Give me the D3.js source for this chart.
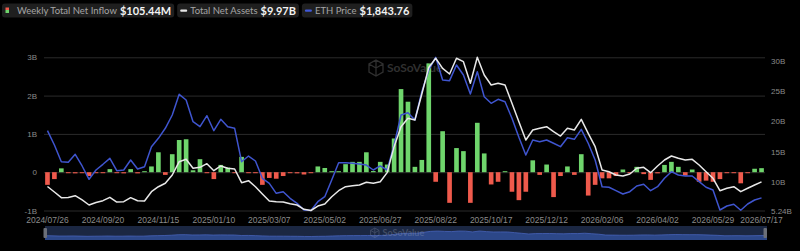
<!DOCTYPE html>
<html>
<head>
<meta charset="utf-8">
<script src="https://cdn.jsdelivr.net/npm/d3@7"></script>
<style>
  html, body { margin: 0; padding: 0; background: #000; }
  svg { display: block; font-family: Lato, "Noto Sans", sans-serif; }
</style>
</head>
<body>
<svg width="800" height="251"></svg>
<script>
// ETH spot ETF weekly flows, total net assets and ETH price (weekly)

const width = 800;
const height = 251;
const plotLeft = 44;
const plotRight = 765;
const plotTop = 57.3;
const plotBottom = 210.5;

const startDate = "2024/07/26";

// weekly total net inflow, $B
const netInflow = [
  -0.33, -0.18, 0.1, -0.02, -0.03, -0.01, -0.1, -0.01, -0.02, 0.08,
  -0.02, -0.03, 0.08, -0.03, 0.01, 0.15, 0.52, -0.07, 0.47, 0.84,
  0.86, 0.05, 0.34, -0.02, -0.18, 0.19, 0.12, -0.02, 0.4, -0.02,
  -0.01, -0.33, -0.15, -0.17, -0.1, -0.01, -0.03, -0.06, -0.01, 0.15,
  0.11, 0.01, 0.02, 0.21, 0.27, 0.27, 0.52, 0.03, 0.27, 0.2,
  0.88, 2.17, 1.84, 0.14, 0.32, 2.84, -0.25, 1.07, -0.8, 0.63,
  0.55, -0.8, 1.29, 0.49, -0.32, -0.25, 0.01, -0.51, -0.73, -0.51,
  0.31, -0.07, 0.2, -0.65, -0.1, 0.15, -0.07, 0.47, -0.61, -0.33,
  -0.16, -0.16, -0.1, 0.07, -0.01, 0.14, -0.05, -0.2, -0.03, 0.19,
  0.27, 0.14, -0.09, 0.07, -0.25, -0.22, -0.25, -0.18, -0.01, -0.01,
  -0.29, -0.01, 0.09, 0.10544
];

// total net assets, $B
const netAssets = [
  9.21, 8.3, 7.36, 7.39, 7.69, 6.98, 6.15, 6.56, 6.86, 7.42,
  6.64, 6.69, 7.36, 6.86, 6.8, 8.35, 9.17, 9.74, 11.11, 13.31,
  13.7, 12.22, 12.38, 12.98, 11.82, 12.6, 12.22, 12.1, 9.84, 10.17,
  9.17, 7.97, 6.81, 6.69, 6.64, 6.36, 6.15, 5.44, 5.24, 5.98,
  6.31, 7.52, 8.51, 9.17, 9.34, 9.45, 9.9, 9.74, 10.0, 11.5,
  15.79, 19.09, 20.48, 20.2, 24.5, 28.88, 30.4, 28.74, 27.8, 30.4,
  29.84, 26.26, 30.56, 27.64, 25.98, 26.26, 25.98, 22.96, 19.92, 16.89,
  18.55, 18.83, 19.09, 18.26, 17.55, 18.83, 18.55, 20.31, 18.0, 15.79,
  11.93, 11.65, 11.11, 10.94, 11.27, 12.22, 12.38, 11.49, 12.6, 13.59,
  14.25, 13.87, 13.59, 13.7, 12.76, 11.65, 10.56, 8.51, 8.91, 9.17,
  8.35, 8.91, 9.45, 9.97
];

// ETH price, $
const ethPrice = [
  3247, 2948, 2599, 2587, 2754, 2510, 2232, 2426, 2545, 2670,
  2411, 2426, 2635, 2447, 2495, 2913, 3088, 3297, 3575, 4007,
  3888, 3435, 3331, 3560, 3247, 3485, 3331, 3297, 2599, 2718,
  2614, 2253, 2148, 1939, 1973, 1835, 1730, 1590, 1580, 1764,
  1868, 2217, 2579, 2579, 2566, 2551, 2530, 2426, 2510, 2426,
  2948, 3575, 3623, 3471, 4062, 4515, 4780, 4306, 4292, 4620,
  4411, 4014, 4480, 3957, 3819, 3903, 3853, 3506, 3109, 2739,
  3053, 3017, 3053, 2984, 2913, 3101, 3067, 3276, 2984, 2635,
  2077, 2065, 1994, 1925, 1973, 2092, 2127, 1994, 2077, 2253,
  2391, 2322, 2301, 2301, 2182, 2065, 2008, 1590, 1674, 1710,
  1585, 1716, 1799, 1843.76
];

const xTickLabels = [
  "2024/07/26", "2024/09/20", "2024/11/15", "2025/01/10", "2025/03/07",
  "2025/05/02", "2025/06/27", "2025/08/22", "2025/10/17", "2025/12/12",
  "2026/02/06", "2026/04/02", "2026/05/29", "2026/07/17"
];
const leftTicks = [-1, 0, 1, 2, 3];
const rightTicks = [5.24, 10, 15, 20, 25, 30];

const legendItems = [
  { label: "Weekly Total Net Inflow", value: "$105.44M", icon: "bar" },
  { label: "Total Net Assets", value: "$9.97B", icon: "#e8e8e8" },
  { label: "ETH Price", value: "$1,843.76", icon: "#4058d8" }
];

const green = "#6fd56c";
const red = "#ef5a4c";
const blue = "#3f55cf";
const white = "#e8e8e8";

const svg = d3.select("svg");
svg.append("rect").attr("width", width).attr("height", height).attr("fill", "#000");

const n = netInflow.length;
const parse = d3.timeParse("%Y/%m/%d");
const weekIndex = (s) => Math.round((parse(s) - parse(startDate)) / (7 * 864e5));
const tickIdx = xTickLabels.map(weekIndex);

const x = d3.scaleBand().domain(d3.range(n)).range([plotLeft, plotRight])
  .paddingInner(0.33).paddingOuter(0.165);
const cx = (i) => x(i) + x.bandwidth() / 2;

const yLeft = d3.scaleLinear().domain([-1, 3]).range([plotBottom, plotTop]);
const yRight = d3.scaleLinear().domain([5.24, 30.56]).range([plotBottom, plotTop]);
const yPrice = d3.scaleLinear().domain(d3.extent(ethPrice)).range([plotBottom, plotTop]);

// grid + left axis
const grid = svg.append("g")
  .attr("transform", `translate(${plotLeft},0)`)
  .call(d3.axisLeft(yLeft).tickValues(leftTicks).tickSize(-(plotRight - plotLeft)).tickPadding(7)
    .tickFormat((d) => (d === 0 ? "0" : d + "B")));
grid.select(".domain").remove();
grid.selectAll("line").attr("stroke", "#2b2b2b").attr("stroke-width", 1);
grid.selectAll("text").attr("fill", "#8a8a8a").style("font-size", "8px");

// right axis
const rAxis = svg.append("g")
  .attr("transform", `translate(${plotRight},0)`)
  .call(d3.axisRight(yRight).tickValues(rightTicks).tickSize(0).tickPadding(6)
    .tickFormat((d) => d + "B"));
rAxis.select(".domain").remove();
rAxis.selectAll("text").attr("fill", "#8a8a8a").style("font-size", "8px");

// x axis
const xAxis = svg.append("g")
  .attr("transform", `translate(0,${plotBottom})`)
  .call(d3.axisBottom(x).tickValues(tickIdx).tickSize(0).tickPadding(6)
    .tickFormat((d) => xTickLabels[tickIdx.indexOf(d)]));
xAxis.select(".domain").remove();
xAxis.selectAll("text").attr("fill", "#8a8a8a").style("font-size", "8.5px");

// watermark
const cube = "M8,0 L15,4 L15,12 L8,16 L1,12 L1,4 Z M8,0 L8,8 L15,4 M8,8 L1,4 M8,8 L8,16";
const wm = svg.append("g").attr("transform", "translate(368,60)").attr("opacity", 0.35);
wm.append("path").attr("d", cube)
  .attr("fill", "none").attr("stroke", "#888").attr("stroke-width", 1.3);
wm.append("text").attr("x", 19).attr("y", 12).attr("fill", "#888")
  .style("font-size", "12px").style("font-weight", 700).text("SoSoValue");

// bars
svg.append("g").selectAll("rect").data(netInflow).enter().append("rect")
  .attr("x", (d, i) => x(i))
  .attr("width", x.bandwidth())
  .attr("y", (d) => Math.min(yLeft(d), yLeft(0) - (d >= 0 ? 1 : 0)))
  .attr("height", (d) => Math.max(1, Math.abs(yLeft(d) - yLeft(0))))
  .attr("fill", (d) => (d >= 0 ? green : red));

// lines
const assetLine = d3.line().x((d, i) => cx(i)).y((d) => yRight(d));
const priceLine = d3.line().x((d, i) => cx(i)).y((d) => yPrice(d));

svg.append("path").datum(ethPrice).attr("d", priceLine)
  .attr("fill", "none").attr("stroke", blue).attr("stroke-width", 1.5)
  .attr("stroke-linejoin", "round");
svg.append("path").datum(netAssets).attr("d", assetLine)
  .attr("fill", "none").attr("stroke", white).attr("stroke-width", 1.5)
  .attr("stroke-linejoin", "round");

// data zoom slider
const sTop = 226;
const sBottom = 240;
const sx = d3.scaleLinear().domain([0, n - 1]).range([45, 767]);
const sy = d3.scaleLinear().domain(d3.extent(netAssets)).range([236.5, 231]);
svg.append("rect").attr("x", 45).attr("y", sTop).attr("width", 722).attr("height", sBottom - sTop)
  .attr("fill", "#1b2742");
svg.append("path").datum(netAssets)
  .attr("d", d3.area().x((d, i) => sx(i)).y0(sBottom).y1((d) => sy(d)))
  .attr("fill", "#2c4788");
svg.append("path").datum(netAssets)
  .attr("d", d3.line().x((d, i) => sx(i)).y((d) => sy(d)))
  .attr("fill", "none").attr("stroke", "#4662b8").attr("stroke-width", 0.8);
[45, 765].forEach((hx) => {
  svg.append("rect").attr("x", hx - 1.5).attr("y", sTop + 2).attr("width", 3.5).attr("height", sBottom - sTop - 4)
    .attr("rx", 1).attr("fill", "#6b6f78");
});
const wm2 = svg.append("g").attr("transform", "translate(370,228) scale(0.6)").attr("opacity", 0.3);
wm2.append("path").attr("d", cube)
  .attr("fill", "none").attr("stroke", "#9aa4bc").attr("stroke-width", 1.5);
wm2.append("text").attr("x", 21).attr("y", 13).attr("fill", "#9aa4bc")
  .style("font-size", "15px").style("font-weight", 700).text("SoSoValue");

// legend
let lx = 2;
legendItems.forEach((item) => {
  const g = svg.append("g");
  const bg = g.append("rect").attr("x", lx).attr("y", 3.5).attr("height", 14).attr("rx", 3)
    .attr("fill", "#1f1f1f");
  let cur = lx + 3;
  if (item.icon === "bar") {
    g.append("rect").attr("x", cur + 0.5).attr("y", 7.5).attr("width", 3.5).attr("height", 2.5).attr("fill", red);
    g.append("rect").attr("x", cur + 0.5).attr("y", 10).attr("width", 3.5).attr("height", 3).attr("fill", green);
    cur += 12;
  } else {
    g.append("rect").attr("x", cur).attr("y", 9.5).attr("width", 7).attr("height", 2.2).attr("rx", 1)
      .attr("fill", item.icon);
    cur += 10;
  }
  const t1 = g.append("text").attr("x", cur).attr("y", 14).attr("fill", "#a5a5a5")
    .style("font-size", "9.5px").text(item.label);
  cur += t1.node().getComputedTextLength() + 3;
  const t2 = g.append("text").attr("x", cur).attr("y", 14.5).attr("fill", "#f2f2f2")
    .style("font-size", "11px").style("font-weight", 700).text(item.value);
  cur += t2.node().getComputedTextLength() + 3;
  bg.attr("width", cur - lx);
  lx = cur + 3;
});
</script>
</body>
</html>
